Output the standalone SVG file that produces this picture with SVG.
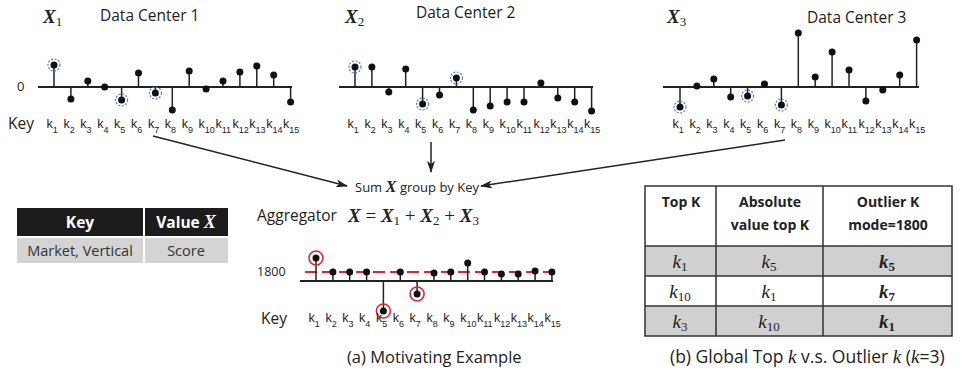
<svg xmlns="http://www.w3.org/2000/svg" width="962" height="378" viewBox="0 0 962 378">
<defs>
<style>
.bl{stroke:#222;stroke-width:2}
.st{stroke:#222;stroke-width:1.5}
.dt{fill:#111}
.bc{fill:none;stroke:#4a86d8;stroke-width:1.2;stroke-dasharray:2 1.5}
.rc{fill:none;stroke:#e3262b;stroke-width:1.6}
.kl{font-family:"Liberation Sans",Arial,sans-serif;font-size:12.5px;fill:#222}
.sb{font-size:9px}
.sans{font-family:"Open Sans","Noto Sans",sans-serif;fill:#222}
.m{font-family:"Liberation Serif","DejaVu Serif",serif;font-style:italic;fill:#222}
.mb{font-family:"Liberation Serif","DejaVu Serif",serif;font-style:italic;font-weight:bold;fill:#222}
.up{font-style:normal;font-weight:normal}
.ar{stroke:#222;stroke-width:1.5;fill:none}
.tb{stroke:#333;stroke-width:1.5;fill:none}
</style>
<marker id="ah" viewBox="0 0 12 8" refX="11" refY="4" markerWidth="12" markerHeight="8" markerUnits="userSpaceOnUse" orient="auto">
<path d="M0,0 L12,4 L0,8 L3,4 Z" fill="#222"/>
</marker>
</defs>
<rect width="962" height="378" fill="#fff"/>

<g id="dc1">
<text x="43" y="23" class="mb" font-size="19">X<tspan class="up" font-size="13" dy="3">1</tspan></text>
<text x="100" y="21" class="sans" font-size="15.5">Data Center 1</text>
<text x="17" y="91" class="sans" font-size="13">0</text>
<text x="8" y="129" class="sans" font-size="15.5">Key</text>
<line x1="38" y1="87" x2="292" y2="87" class="bl"/>
<path class="st" d="M54,87V65M70.9,87V99M87.8,87V81M121.6,87V100M138.5,87V73M155.4,87V93M172.3,87V110M189.2,87V71M206.1,87V89M223,87V81M239.9,87V72M256.8,87V66M273.7,87V75M290.6,87V102"/>
<g class="dt">
<circle cx="54" cy="65" r="3.5"/><circle cx="70.9" cy="99" r="3.5"/><circle cx="87.8" cy="81" r="3.5"/><circle cx="104.7" cy="87" r="3.5"/><circle cx="121.6" cy="100" r="3.5"/><circle cx="138.5" cy="73" r="3.5"/><circle cx="155.4" cy="93" r="3.5"/><circle cx="172.3" cy="110" r="3.5"/><circle cx="189.2" cy="71" r="3.5"/><circle cx="206.1" cy="89" r="3.5"/><circle cx="223" cy="81" r="3.5"/><circle cx="239.9" cy="72" r="3.5"/><circle cx="256.8" cy="66" r="3.5"/><circle cx="273.7" cy="75" r="3.5"/><circle cx="290.6" cy="102" r="3.5"/>
</g>
<circle cx="54" cy="65" r="6" class="bc"/><circle cx="121.6" cy="100" r="6" class="bc"/><circle cx="155.4" cy="93" r="6" class="bc"/>
<g class="kl">
<text x="46.5" y="128">k<tspan class="sb" dy="5">1</tspan></text>
<text x="63.4" y="128">k<tspan class="sb" dy="5">2</tspan></text>
<text x="80.3" y="128">k<tspan class="sb" dy="5">3</tspan></text>
<text x="97.2" y="128">k<tspan class="sb" dy="5">4</tspan></text>
<text x="114.1" y="128">k<tspan class="sb" dy="5">5</tspan></text>
<text x="131" y="128">k<tspan class="sb" dy="5">6</tspan></text>
<text x="147.9" y="128">k<tspan class="sb" dy="5">7</tspan></text>
<text x="164.8" y="128">k<tspan class="sb" dy="5">8</tspan></text>
<text x="181.7" y="128">k<tspan class="sb" dy="5">9</tspan></text>
<text x="198.6" y="128">k<tspan class="sb" dy="5">10</tspan></text>
<text x="215.5" y="128">k<tspan class="sb" dy="5">11</tspan></text>
<text x="232.4" y="128">k<tspan class="sb" dy="5">12</tspan></text>
<text x="249.3" y="128">k<tspan class="sb" dy="5">13</tspan></text>
<text x="266.2" y="128">k<tspan class="sb" dy="5">14</tspan></text>
<text x="283.1" y="128">k<tspan class="sb" dy="5">15</tspan></text>
</g>
</g>

<g id="dc2">
<text x="345" y="23" class="mb" font-size="19">X<tspan class="up" font-size="13" dy="3">2</tspan></text>
<text x="416" y="18" class="sans" font-size="15.5">Data Center 2</text>
<line x1="339" y1="87" x2="593" y2="87" class="bl"/>
<path class="st" d="M355,87V67M371.9,87V67M388.8,87V92M405.7,87V69M422.6,87V104M439.5,87V95M456.4,87V78M473.3,87V110M490.2,87V106M507.1,87V102M524,87V102M540.9,87V83M557.8,87V98M574.7,87V102M591.6,87V111"/>
<g class="dt">
<circle cx="355" cy="67" r="3.5"/><circle cx="371.9" cy="67" r="3.5"/><circle cx="388.8" cy="92" r="3.5"/><circle cx="405.7" cy="69" r="3.5"/><circle cx="422.6" cy="104" r="3.5"/><circle cx="439.5" cy="95" r="3.5"/><circle cx="456.4" cy="78" r="3.5"/><circle cx="473.3" cy="110" r="3.5"/><circle cx="490.2" cy="106" r="3.5"/><circle cx="507.1" cy="102" r="3.5"/><circle cx="524" cy="102" r="3.5"/><circle cx="540.9" cy="83" r="3.5"/><circle cx="557.8" cy="98" r="3.5"/><circle cx="574.7" cy="102" r="3.5"/><circle cx="591.6" cy="111" r="3.5"/>
</g>
<circle cx="355" cy="67" r="6" class="bc"/><circle cx="422.6" cy="104" r="6" class="bc"/><circle cx="456.4" cy="78" r="6" class="bc"/>
<g class="kl">
<text x="347.5" y="128">k<tspan class="sb" dy="5">1</tspan></text>
<text x="364.4" y="128">k<tspan class="sb" dy="5">2</tspan></text>
<text x="381.3" y="128">k<tspan class="sb" dy="5">3</tspan></text>
<text x="398.2" y="128">k<tspan class="sb" dy="5">4</tspan></text>
<text x="415.1" y="128">k<tspan class="sb" dy="5">5</tspan></text>
<text x="432" y="128">k<tspan class="sb" dy="5">6</tspan></text>
<text x="448.9" y="128">k<tspan class="sb" dy="5">7</tspan></text>
<text x="465.8" y="128">k<tspan class="sb" dy="5">8</tspan></text>
<text x="482.7" y="128">k<tspan class="sb" dy="5">9</tspan></text>
<text x="499.6" y="128">k<tspan class="sb" dy="5">10</tspan></text>
<text x="516.5" y="128">k<tspan class="sb" dy="5">11</tspan></text>
<text x="533.4" y="128">k<tspan class="sb" dy="5">12</tspan></text>
<text x="550.3" y="128">k<tspan class="sb" dy="5">13</tspan></text>
<text x="567.2" y="128">k<tspan class="sb" dy="5">14</tspan></text>
<text x="584.1" y="128">k<tspan class="sb" dy="5">15</tspan></text>
</g>
</g>

<g id="dc3">
<text x="667" y="23" class="mb" font-size="19">X<tspan class="up" font-size="13" dy="3">3</tspan></text>
<text x="807" y="23" class="sans" font-size="15.5">Data Center 3</text>
<line x1="663" y1="87" x2="919" y2="87" class="bl"/>
<path class="st" d="M680,87V107M713.8,87V79M730.7,87V97M747.6,87V96M781.4,87V105M798.3,87V33M815.2,87V77M832.1,87V52M849,87V70M865.9,87V101M899.7,87V75M916.6,87V40"/>
<g class="dt">
<circle cx="680" cy="107" r="3.5"/><circle cx="696.9" cy="86" r="3.5"/><circle cx="713.8" cy="79" r="3.5"/><circle cx="730.7" cy="97" r="3.5"/><circle cx="747.6" cy="96" r="3.5"/><circle cx="764.5" cy="84" r="3.5"/><circle cx="781.4" cy="105" r="3.5"/><circle cx="798.3" cy="33" r="3.5"/><circle cx="815.2" cy="77" r="3.5"/><circle cx="832.1" cy="52" r="3.5"/><circle cx="849" cy="70" r="3.5"/><circle cx="865.9" cy="101" r="3.5"/><circle cx="882.8" cy="90" r="3.5"/><circle cx="899.7" cy="75" r="3.5"/><circle cx="916.6" cy="40" r="3.5"/>
</g>
<circle cx="680" cy="107" r="6" class="bc"/><circle cx="747.6" cy="96" r="6" class="bc"/><circle cx="781.4" cy="105" r="6" class="bc"/>
<g class="kl">
<text x="672.5" y="128">k<tspan class="sb" dy="5">1</tspan></text>
<text x="689.4" y="128">k<tspan class="sb" dy="5">2</tspan></text>
<text x="706.3" y="128">k<tspan class="sb" dy="5">3</tspan></text>
<text x="723.2" y="128">k<tspan class="sb" dy="5">4</tspan></text>
<text x="740.1" y="128">k<tspan class="sb" dy="5">5</tspan></text>
<text x="757" y="128">k<tspan class="sb" dy="5">6</tspan></text>
<text x="773.9" y="128">k<tspan class="sb" dy="5">7</tspan></text>
<text x="790.8" y="128">k<tspan class="sb" dy="5">8</tspan></text>
<text x="807.7" y="128">k<tspan class="sb" dy="5">9</tspan></text>
<text x="824.6" y="128">k<tspan class="sb" dy="5">10</tspan></text>
<text x="841.5" y="128">k<tspan class="sb" dy="5">11</tspan></text>
<text x="858.4" y="128">k<tspan class="sb" dy="5">12</tspan></text>
<text x="875.3" y="128">k<tspan class="sb" dy="5">13</tspan></text>
<text x="892.2" y="128">k<tspan class="sb" dy="5">14</tspan></text>
<text x="909.1" y="128">k<tspan class="sb" dy="5">15</tspan></text>
</g>
</g>

<g id="connectors">
<line x1="153" y1="136" x2="347" y2="186" class="ar" marker-end="url(#ah)"/>
<line x1="431" y1="142" x2="431" y2="172" class="ar" marker-end="url(#ah)"/>
<line x1="785" y1="140" x2="481" y2="186" class="ar" marker-end="url(#ah)"/>
</g>

<g id="aggregator">
<text x="355" y="192" class="sans" font-size="13">Sum <tspan class="mb" font-size="16.5">X</tspan> group by Key</text>
<text x="257" y="221" class="sans" font-size="15.5">Aggregator</text>
<text x="348" y="222" class="mb" font-size="19">X<tspan class="up"> = </tspan>X<tspan class="up" font-size="13" dy="3">1</tspan><tspan class="up" dy="-3"> + </tspan>X<tspan class="up" font-size="13" dy="3">2</tspan><tspan class="up" dy="-3"> + </tspan>X<tspan class="up" font-size="13" dy="3">3</tspan></text>
</g>

<g id="aggregated">
<text x="257" y="276" class="sans" font-size="12.5">1800</text>
<text x="261" y="324" class="sans" font-size="15.5">Key</text>
<line x1="300" y1="281" x2="553" y2="281" class="bl"/>
<line x1="305" y1="272" x2="557" y2="272" stroke="#e3262b" stroke-width="2" stroke-dasharray="12 5"/>
<path class="st" d="M316,281V258M332.9,281V272M349.7,281V272M366.6,281V272M383.4,281V311M400.3,281V272M417.1,281V294M434,281V273M450.8,281V272M467.7,281V263M484.5,281V272M501.4,281V274M518.2,281V274M535.1,281V271M551.9,281V272"/>
<g class="dt">
<circle cx="316" cy="258" r="3.5"/><circle cx="332.9" cy="272" r="3.5"/><circle cx="349.7" cy="272" r="3.5"/><circle cx="366.6" cy="272" r="3.5"/><circle cx="383.4" cy="311" r="3.5"/><circle cx="400.3" cy="272" r="3.5"/><circle cx="417.1" cy="294" r="3.5"/><circle cx="434" cy="273" r="3.5"/><circle cx="450.8" cy="272" r="3.5"/><circle cx="467.7" cy="263" r="3.5"/><circle cx="484.5" cy="272" r="3.5"/><circle cx="501.4" cy="274" r="3.5"/><circle cx="518.2" cy="274" r="3.5"/><circle cx="535.1" cy="271" r="3.5"/><circle cx="551.9" cy="272" r="3.5"/>
</g>
<circle cx="316" cy="258" r="7" class="rc"/><circle cx="383.4" cy="311" r="7" class="rc"/><circle cx="417.1" cy="294" r="7" class="rc"/>
<g class="kl">
<text x="308.5" y="322">k<tspan class="sb" dy="5">1</tspan></text>
<text x="325.4" y="322">k<tspan class="sb" dy="5">2</tspan></text>
<text x="342.2" y="322">k<tspan class="sb" dy="5">3</tspan></text>
<text x="359.1" y="322">k<tspan class="sb" dy="5">4</tspan></text>
<text x="375.9" y="322">k<tspan class="sb" dy="5">5</tspan></text>
<text x="392.8" y="322">k<tspan class="sb" dy="5">6</tspan></text>
<text x="409.6" y="322">k<tspan class="sb" dy="5">7</tspan></text>
<text x="426.5" y="322">k<tspan class="sb" dy="5">8</tspan></text>
<text x="443.3" y="322">k<tspan class="sb" dy="5">9</tspan></text>
<text x="460.2" y="322">k<tspan class="sb" dy="5">10</tspan></text>
<text x="477" y="322">k<tspan class="sb" dy="5">11</tspan></text>
<text x="493.9" y="322">k<tspan class="sb" dy="5">12</tspan></text>
<text x="510.7" y="322">k<tspan class="sb" dy="5">13</tspan></text>
<text x="527.6" y="322">k<tspan class="sb" dy="5">14</tspan></text>
<text x="544.4" y="322">k<tspan class="sb" dy="5">15</tspan></text>
</g>
</g>

<g id="key-table">
<rect x="17" y="208" width="126" height="28" fill="#1c1c1c"/>
<rect x="145" y="208" width="83" height="28" fill="#1c1c1c"/>
<rect x="17" y="238" width="126" height="25" fill="#d4d4d4"/>
<rect x="145" y="238" width="83" height="25" fill="#d4d4d4"/>
<text x="80" y="228" text-anchor="middle" class="sans" font-size="15.5" font-weight="bold" style="fill:#fff">Key</text>
<text x="186" y="228" text-anchor="middle" class="sans" font-size="15.5" font-weight="bold" style="fill:#fff">Value <tspan class="mb" font-size="18" style="fill:#fff">X</tspan></text>
<text x="80" y="256" text-anchor="middle" class="sans" font-size="14.5" style="fill:#333">Market, Vertical</text>
<text x="186" y="256" text-anchor="middle" class="sans" font-size="14.5" style="fill:#333">Score</text>
</g>

<g id="topk-table">
<rect x="645" y="246" width="307" height="30" fill="#d0d0d0"/>
<rect x="645" y="306" width="307" height="30" fill="#d0d0d0"/>
<rect x="645" y="186" width="307" height="150" class="tb"/>
<path class="tb" d="M716,186V336M823,186V336M645,246H952M645,276H952M645,306H952"/>
<g class="sans" font-size="14" font-weight="bold" text-anchor="middle">
<text x="681" y="207">Top K</text>
<text x="770" y="207">Absolute</text>
<text x="770" y="230">value top K</text>
<text x="888" y="207">Outlier K</text>
<text x="888" y="230">mode=1800</text>
</g>
<g font-size="19" text-anchor="middle">
<text x="680" y="268" class="m">k<tspan class="up" font-size="13" dy="3">1</tspan></text>
<text x="769" y="268" class="m">k<tspan class="up" font-size="13" dy="3">5</tspan></text>
<text x="887" y="268" class="mb">k<tspan class="up" style="font-weight:bold" font-size="13" dy="3">5</tspan></text>
<text x="680" y="298" class="m">k<tspan class="up" font-size="13" dy="3">10</tspan></text>
<text x="769" y="298" class="m">k<tspan class="up" font-size="13" dy="3">1</tspan></text>
<text x="887" y="298" class="mb">k<tspan class="up" style="font-weight:bold" font-size="13" dy="3">7</tspan></text>
<text x="680" y="328" class="m">k<tspan class="up" font-size="13" dy="3">3</tspan></text>
<text x="769" y="328" class="m">k<tspan class="up" font-size="13" dy="3">10</tspan></text>
<text x="887" y="328" class="mb">k<tspan class="up" style="font-weight:bold" font-size="13" dy="3">1</tspan></text>
</g>
</g>

<g id="captions">
<text x="347" y="363" class="sans" font-size="16.5">(a) Motivating Example</text>
<text x="670" y="363" class="sans" font-size="17.5">(b) Global Top <tspan class="m" font-size="19">k</tspan> v.s. Outlier <tspan class="m" font-size="19">k</tspan> (<tspan class="m" font-size="19">k</tspan>=3)</text>
</g>
</svg>
